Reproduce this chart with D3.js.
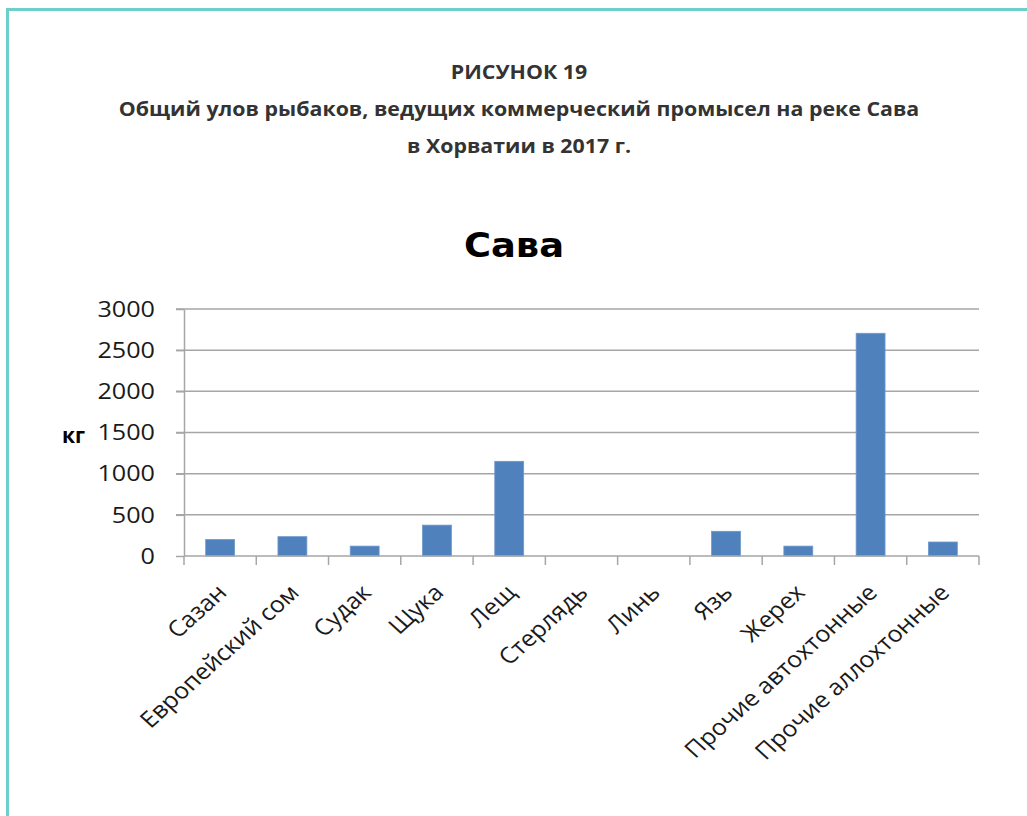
<!DOCTYPE html>
<html>
<head>
<meta charset="utf-8">
<script src="https://cdn.jsdelivr.net/npm/d3@7"></script>
<style>
  html, body { margin: 0; padding: 0; background: #fff; }
  svg { display: block; }
</style>
</head>
<body>
<svg id="chart" width="1027" height="816"></svg>
<script>
// Catch by species, kg
const categories = ["Сазан", "Европейский сом", "Судак", "Щука", "Лещ", "Стерлядь",
                    "Линь", "Язь", "Жерех", "Прочие автохтонные", "Прочие аллохтонные"];
const catchKg = [200, 235, 120, 375, 1150, 0, 0, 300, 120, 2705, 170];
const yTicks = [0, 500, 1000, 1500, 2000, 2500, 3000];
const headerLines = ["РИСУНОК 19",
                     "Общий улов рыбаков, ведущих коммерческий промысел на реке Сава",
                     "в Хорватии в 2017 г."];
const chartTitle = "Сава";
const yLabel = "кг";

// Text in the figure is set slightly wide
const WIDE = 1.1;

const svg = d3.select("#chart");

// Frame: teal top and left rules
svg.append("line").attr("x1", 6).attr("x2", 1027).attr("y1", 9.5).attr("y2", 9.5)
  .attr("stroke", "#6ccfca").attr("stroke-width", 3);
svg.append("line").attr("x1", 7.5).attr("x2", 7.5).attr("y1", 8).attr("y2", 816)
  .attr("stroke", "#6ccfca").attr("stroke-width", 3);

// Header block
const headerY = [79, 116, 153];
svg.selectAll("text.header").data(headerLines).join("text")
  .attr("class", "header")
  .attr("transform", (d, i) => `translate(519,${headerY[i]}) scale(1.09,1)`)
  .attr("text-anchor", "middle")
  .attr("font-family", "'Open Sans', sans-serif")
  .attr("font-weight", 700)
  .attr("font-size", 19.6)
  .attr("fill", "#333")
  .text(d => d);

// Chart title
svg.append("text")
  .attr("transform", `translate(514,257) scale(${WIDE},1)`)
  .attr("text-anchor", "middle")
  .attr("font-family", "'DejaVu Sans', sans-serif")
  .attr("font-weight", 700)
  .attr("font-size", 33.5)
  .attr("fill", "#000")
  .text(chartTitle);

// Plot area
const plotLeft = 184, plotRight = 979, plotTop = 309, plotBottom = 556;

const x = d3.scaleBand().domain(categories).range([plotLeft, plotRight]).paddingInner(0.6).paddingOuter(0.3);
const xEdge = d3.scaleBand().domain(categories).range([plotLeft, plotRight]);
const y = d3.scaleLinear().domain([0, 3000]).range([plotBottom, plotTop]);

// Gridlines
svg.append("g").selectAll("line").data(yTicks.filter(t => t > 0)).join("line")
  .attr("x1", plotLeft - 8).attr("x2", plotRight)
  .attr("y1", d => y(d)).attr("y2", d => y(d))
  .attr("stroke", "#a6a6a6").attr("stroke-width", 1.5);

// Y axis
const yAxis = svg.append("g")
  .attr("transform", `translate(${plotLeft},0)`)
  .call(d3.axisLeft(y).tickValues(yTicks).tickFormat(d3.format("d"))
    .tickSize(8).tickPadding(0).tickSizeOuter(0));
yAxis.select(".domain").attr("stroke", "#a6a6a6").attr("stroke-width", 1.5);
yAxis.selectAll(".tick line").attr("stroke", "#a6a6a6").attr("stroke-width", 1.5);
yAxis.selectAll(".tick text")
  .attr("x", null)
  .attr("transform", `translate(-29,0) scale(1.12,1)`)
  .attr("font-family", "'Open Sans', sans-serif")
  .attr("font-size", 22.5)
  .attr("fill", "#1a1a1a");

// Y axis title
svg.append("text")
  .attr("x", 73.5).attr("y", 443)
  .attr("text-anchor", "middle")
  .attr("font-family", "'Open Sans', sans-serif")
  .attr("font-weight", 700)
  .attr("font-size", 21)
  .attr("fill", "#000")
  .text(yLabel);

// Bars
svg.append("g").selectAll("rect").data(categories).join("rect")
  .attr("x", d => x(d))
  .attr("width", x.bandwidth())
  .attr("y", (d, i) => y(catchKg[i]))
  .attr("height", (d, i) => plotBottom - y(catchKg[i]))
  .attr("fill", "#4f81bd")
  .attr("stroke", "#6f98cc")
  .attr("stroke-width", 0.8);

// X axis baseline and category separator ticks
const edges = categories.map(c => xEdge(c)).concat([plotRight]);
svg.append("line").attr("x1", plotLeft).attr("x2", plotRight).attr("y1", plotBottom).attr("y2", plotBottom)
  .attr("stroke", "#a6a6a6").attr("stroke-width", 1.5);
svg.append("g").selectAll("line").data(edges).join("line")
  .attr("x1", d => d).attr("x2", d => d)
  .attr("y1", plotBottom).attr("y2", plotBottom + 9)
  .attr("stroke", "#a6a6a6").attr("stroke-width", 1.5);

// Category labels, rotated
svg.append("g").selectAll("text").data(categories).join("text")
  .attr("transform", d => `translate(${xEdge(d) + xEdge.bandwidth() / 2 + 8},594) scale(1.11,1) rotate(-45)`)
  .attr("text-anchor", "end")
  .attr("font-family", "'Open Sans', sans-serif")
  .attr("font-size", 22.5)
  .attr("fill", "#1a1a1a")
  .text(d => d);
</script>
</body>
</html>
